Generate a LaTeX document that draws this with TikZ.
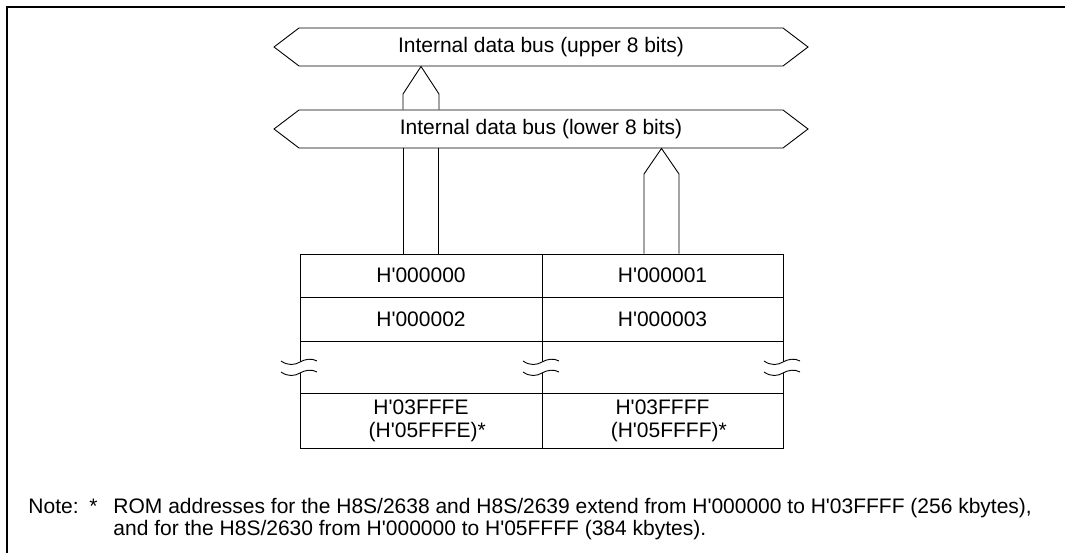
\documentclass[tikz,border=0pt]{standalone}
\usepackage{fontspec}
\setmainfont{Liberation Sans}[Ligatures=TeXOff]
\begin{document}
\begin{tikzpicture}[x=1pt,y=-1pt,line width=0.9pt,
  font=\fontsize{21}{23}\selectfont,
  lbl/.style={inner sep=0pt,minimum height=38},
  cell/.style={draw,inner sep=0pt,align=center},
  busline/.style={draw,line width=0.9pt},
  wide/.style={draw,line width=0.9pt},
  txt/.style={anchor=base west,inner sep=0pt},
  breakmark/.pic={
    \fill[white] (-19,-1) .. controls (-12,4) and (-5,3) .. (0,0) .. controls (5,-3) and (12,-4) .. (17,-1)
      -- (17,10) .. controls (12,7) and (5,8) .. (0,11) .. controls (-5,14) and (-12,15) .. (-19,10) -- cycle;
    \draw (-19,-1) .. controls (-12,4) and (-5,3) .. (0,0) .. controls (5,-3) and (12,-4) .. (17,-1);
    \draw (-19,10) .. controls (-12,15) and (-5,14) .. (0,11) .. controls (5,8) and (12,7) .. (17,10);
  }]
\useasboundingbox (0,0) rectangle (1065,553);
% frame
\draw[line width=2pt] (1065,7) -- (7,7) -- (7,553);
% buses
\draw[busline] (274,47) -- (299,28) -- (783,28) -- (808,47) -- (783,66) -- (299,66) -- cycle;
\node[lbl] (upper) at (541,47) {Internal data bus (upper 8 bits)};
\draw[busline] (274,129) -- (299,110) -- (783,110) -- (808,129) -- (783,148) -- (299,148) -- cycle;
\node[lbl] (lower) at (541,129) {Internal data bus (lower 8 bits)};
% table
\node[cell,minimum width=242,minimum height=43] (c00) at (421,275.5) {H'000000};
\node[cell,minimum width=241,minimum height=43] (c01) at (662.5,275.5) {H'000001};
\node[cell,minimum width=242,minimum height=44] (c10) at (421,319) {H'000002};
\node[cell,minimum width=241,minimum height=44] (c11) at (662.5,319) {H'000003};
\node[cell,minimum width=242,minimum height=52] (c20) at (421,367) {};
\node[cell,minimum width=241,minimum height=52] (c21) at (662.5,367) {};
\node[cell,minimum width=242,minimum height=55] (c30) at (421,420.5) {H'03FFFE\\\hspace*{0.6em}(H'05FFFE)*};
\node[cell,minimum width=241,minimum height=55] (c31) at (662.5,420.5) {H'03FFFF\\\hspace*{0.6em}(H'05FFFF)*};
% break marks
\pic at (300,362) {breakmark};
\pic at (542,362) {breakmark};
\pic at (783,362) {breakmark};
% wide arrow lower -> upper
\draw[wide] (403,0 |- lower.north) -- (403,94) -- (421,0 |- upper.south) -- (439,94) -- (439,0 |- lower.north);
% wide connection lower bus -> left column
\draw[wide] (403,0 |- lower.south) -- (403,0 |- c00.north);
\draw[wide] (438,0 |- lower.south) -- (438,0 |- c00.north);
% wide arrow right column -> lower bus
\draw[wide] (644,0 |- c01.north) -- (644,174) -- (661.5,0 |- lower.south) -- (679,174) -- (679,0 |- c01.north);
% note
\node[txt] (note) at (28,513) {Note:};
\node[txt] (star) at (89,513) {*};
\node[txt] (n1) at (113,513) {ROM addresses for the H8S/2638 and H8S/2639 extend from H'000000 to H'03FFFF (256 kbytes),};
\node[txt] (n2) at (113,535) {and for the H8S/2630 from H'000000 to H'05FFFF (384 kbytes).};
\end{tikzpicture}
\end{document}
